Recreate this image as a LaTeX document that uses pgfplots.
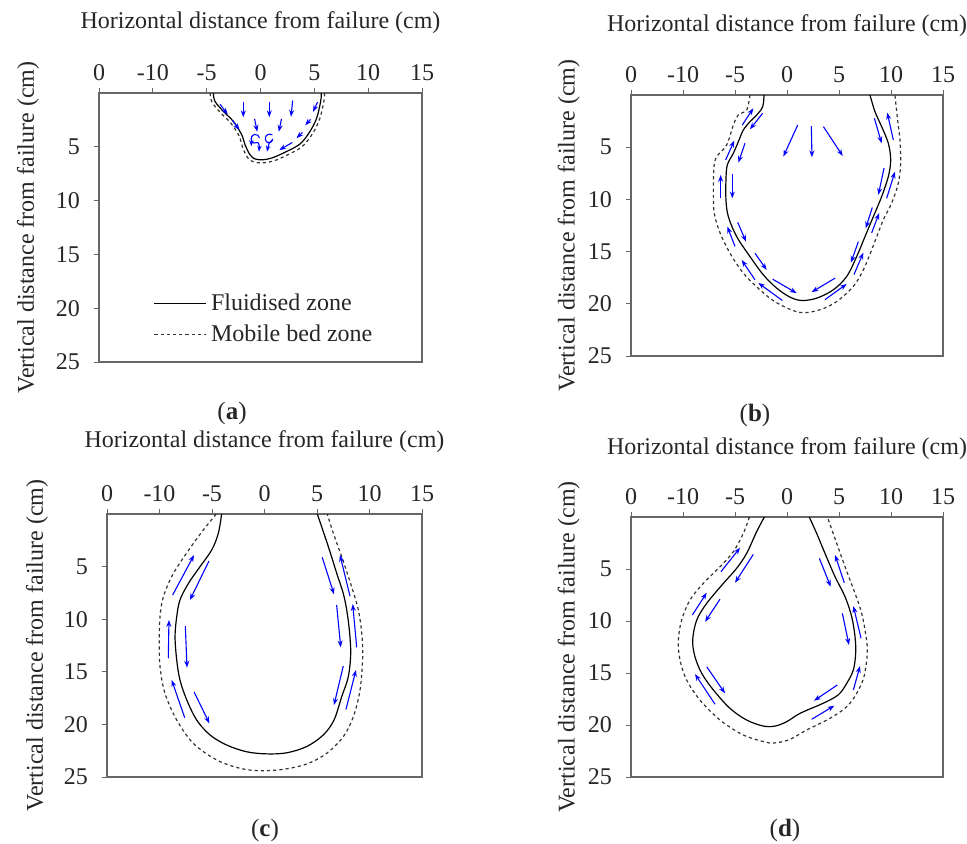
\documentclass[border=0pt]{standalone}
\usepackage{fontspec}
\setmainfont{Liberation Serif}
\usepackage{pgfplots}
\pgfplotsset{compat=1.18}
\usetikzlibrary{arrows.meta}

\pgfplotsset{
  panel/.style={
    scale only axis,
    xmin=-15, xmax=15, ymin=0, ymax=25,
    y dir=reverse,
    xtick={-15,-10,-5,0,5,10,15},
    xticklabels={0,-10,-5,0,5,10,15},
    ytick={5,10,15,20,25},
    yticklabels={5,10,15,20,25},
    xtick pos=right, xticklabel pos=right,
    ytick pos=left,
    tick align=outside,
    major tick length=2.5pt,
    axis line style={draw=black!60, line width=0.6pt},
    tick style={draw=black!60, line width=0.5pt},
    ticklabel style={font=\fontsize{12}{14}\selectfont, text=black!85},
    yticklabel style={xshift=-3.5pt},
    label style={font=\fontsize{12}{14}\selectfont, text=black!85},
    xlabel={Horizontal distance from failure (cm)},
    ylabel={Vertical distance from failure (cm)},
    anchor=north west,
  },
  fz/.style={black, line width=0.6pt, smooth, tension=0.55},
  mb/.style={black!80, line width=0.6pt, dash pattern=on 1.6pt off 1.5pt, smooth, tension=0.55},
  arr/.style={blue, line width=0.55pt, -{Stealth[length=3.4pt,width=2.5pt]}, quiver={u=\thisrow{u}, v=\thisrow{v}}, forget plot},
}

\begin{document}
\begin{tikzpicture}
\path[use as bounding box] (0pt,0pt) rectangle (483.5pt,-421.5pt);

% ---------------- (a)
\begin{axis}[panel, at={(49.5pt,-46.5pt)}, width=161.5pt, height=134.5pt,
  xlabel style={at={(axis description cs:0.5,1.26)}, anchor=center},
  ylabel style={at={(axis description cs:-0.22,0.5)}, anchor=center},
  legend style={draw=none, fill=none, at={(axis description cs:0.15,0.285)}, anchor=north west,
    font=\fontsize{12}{14}\selectfont, text=black!85, row sep=1.5pt,
    /tikz/every even column/.append style={column sep=3.5pt}},
  legend cell align=left,
  legend image code/.code={\draw[#1] (0pt,0pt) -- (26pt,0pt);},
]
\addplot[fz] coordinates {(-4.38,0) (-4.23,0.77) (-3.46,1.7) (-2.53,2.63) (-1.75,3.87) (-1.44,4.8) (-0.98,5.73) (-0.51,6.13) (0.26,6.2) (1.04,6.04) (2.12,5.58) (3.67,4.74) (4.6,3.56) (5.22,2.32) (5.59,0.77) (5.65,0)};
\addlegendentry{Fluidised zone}
\addplot[mb] coordinates {(-4.68,0) (-4.5,0.85) (-3.7,1.85) (-2.75,2.8) (-1.98,4.0) (-1.68,5.0) (-1.2,6.0) (-0.6,6.42) (0.3,6.48) (1.2,6.32) (2.3,5.85) (3.85,5.0) (4.85,3.75) (5.5,2.4) (5.88,0.8) (5.95,0)};
\addlegendentry{Mobile bed zone}
\addplot[arr] table {
x y u v
-1.6 0.8 0 1.45
0.82 0.8 0 1.45
2.99 0.7 -0.16 1.5
-3.75 1.05 0.7 0.95
-2.6 2.55 0.65 0.9
-0.55 2.4 0.25 1.2
1.95 2.4 -0.25 1.2
5.3 0.85 -0.42 0.9
4.65 2.45 -0.5 0.55
3.9 3.65 -0.55 0.55
2.95 4.6 -1.2 0.7
};
\addplot[blue, line width=0.55pt, smooth, -{Stealth[length=3pt,width=2.2pt]}, forget plot] coordinates {(-0.1,4.2) (-0.25,3.92) (-0.55,3.85) (-0.82,4.05) (-0.85,4.4) (-0.6,4.65) (-0.25,4.6) (-0.12,4.9) (-0.14,5.45)};
\addplot[blue, line width=0.55pt, smooth, -{Stealth[length=3pt,width=2.2pt]}, forget plot] coordinates {(1.1,3.9) (0.85,3.82) (0.55,3.95) (0.45,4.3) (0.65,4.6) (1.0,4.55) (1.1,4.35) (0.8,4.7) (0.6,5.45)};
\addplot[blue, line width=0.55pt, -{Stealth[length=3pt,width=2.2pt]}, forget plot] coordinates {(-0.85,4.35) (-0.85,4.95)};
\end{axis}

% ---------------- (b)
\begin{axis}[panel, at={(315.5pt,-47.5pt)}, width=156pt, height=130.5pt,
  xlabel style={at={(axis description cs:0.5,1.265)}, anchor=center},
  ylabel style={at={(axis description cs:-0.2,0.5)}, anchor=center},
]
\addplot[fz] coordinates {(-2.21,0) (-2.34,1.12) (-2.91,1.91) (-3.56,2.55) (-4.2,3.35) (-4.68,4.47) (-5.16,5.58) (-5.74,6.7) (-5.87,8.13) (-5.87,10.05) (-5.64,11.65) (-4.84,13.56) (-3.56,15.47) (-2.28,17.22) (-0.99,18.5) (0.29,19.36) (1.41,19.68) (2.85,19.46) (4.45,18.66) (5.74,17.38) (6.7,15.47) (7.5,13.56) (8.3,11.65) (9.1,9.73) (9.74,7.82) (9.97,6.22) (9.74,4.62) (9.1,3.03) (8.46,1.6) (7.98,0)};
\addplot[mb] coordinates {(-3.56,0) (-3.88,1.44) (-4.68,1.9) (-5.16,2.87) (-5.8,4.78) (-6.76,5.9) (-7.02,6.86) (-7.08,9.1) (-7.0,11.3) (-6.44,13.2) (-5.48,15.15) (-4.2,17.06) (-2.6,18.66) (-0.99,19.9) (1.25,20.83) (3.17,20.57) (4.78,19.78) (6.37,18.34) (7.34,16.75) (8.14,14.83) (9.26,11.96) (10.06,10.36) (10.7,8.45) (10.93,6.54) (10.86,4.3) (10.6,2.08) (10.38,0)};
\addplot[arr] table {
x y u v
-4.3 2.87 1.06 -1.6
-2.34 1.75 -1.22 1.53
-5.9 6.22 0.83 -1.85
-4.04 4.62 -0.64 1.86
-6.38 9.9 0 -2.24
-5.26 7.6 0 2.3
-4.74 12.2 0.8 1.84
-5.0 14.5 -0.74 -1.9
-3.08 15.15 1.12 1.6
-3.08 17.7 -1.28 -1.9
-1.38 17.64 2.31 1.34
-0.45 19.68 -2.31 -1.68
4.62 17.54 -2.25 1.34
3.65 19.6 2.09 -1.5
6.86 14.04 -0.71 2.01
6.44 17.2 0.9 -2.1
8.2 10.78 -0.63 1.98
8.14 13.2 0.73 -1.9
9.33 7.0 -0.55 2.57
9.58 9.9 0.8 -2.56
8.4 2.23 0.7 2.39
10.22 4.3 -0.58 -2.61
1.03 2.87 -1.38 3.03
2.34 2.97 0.06 2.99
3.5 3.03 1.86 2.81
};
\end{axis}

% ---------------- (c)
\begin{axis}[panel, at={(53.5pt,-257pt)}, width=157.5pt, height=131.5pt,
  xlabel style={at={(axis description cs:0.5,1.275)}, anchor=center},
  ylabel style={at={(axis description cs:-0.222,0.5)}, anchor=center},
]
\addplot[fz] coordinates {(-4.08,0) (-4.4,1.84) (-5.03,3.42) (-6.14,5.0) (-7.25,6.6) (-8.05,8.17) (-8.36,9.76) (-8.52,11.66) (-8.36,13.88) (-8.05,15.78) (-7.4,17.68) (-6.46,19.58) (-5.19,21.0) (-3.6,21.96) (-1.7,22.6) (0.21,22.8) (2.11,22.7) (4.02,22.1) (5.6,21.0) (6.62,19.58) (7.35,17.37) (7.98,15.47) (8.21,13.24) (8.08,11.03) (7.83,9.13) (7.5,7.54) (6.88,5.64) (6.08,3.1) (5.03,0)};
\addplot[mb] coordinates {(-4.6,0) (-5.83,1.52) (-7.1,3.26) (-8.68,5.64) (-9.63,7.86) (-9.95,9.76) (-10.02,11.98) (-9.95,14.5) (-9.48,17.04) (-8.36,19.58) (-6.78,21.8) (-4.55,23.38) (-2.33,24.17) (-0.43,24.4) (1.79,24.27) (4.02,23.76) (5.92,22.75) (7.5,21.17) (8.46,19.27) (9.1,16.73) (9.35,13.56) (9.26,11.34) (8.94,9.13) (8.3,6.91) (7.35,4.06) (6.56,1.84) (5.98,0)};
\addplot[arr] table {
x y u v
-8.75 7.7 2.04 -3.8
-5.29 4.47 -1.81 3.7
-9.16 13.72 0.06 -3.64
-7.54 10.65 0.16 3.95
-7.6 19.36 -1.24 -3.58
-6.71 16.9 1.46 3.0
5.5 4.12 1.12 3.51
8.14 7.8 -0.95 -3.9
6.87 8.65 0.39 4.02
8.78 12.67 -0.38 -4.11
7.5 14.45 -0.88 3.71
7.76 18.57 0.95 -3.74
};
\end{axis}

% ---------------- (d)
\begin{axis}[panel, at={(315.5pt,-258.5pt)}, width=156pt, height=130pt,
  xlabel style={at={(axis description cs:0.5,1.265)}, anchor=center},
  ylabel style={at={(axis description cs:-0.2,0.5)}, anchor=center},
]
\addplot[fz] coordinates {(-2.18,0) (-2.92,1.41) (-3.88,3.49) (-4.84,4.93) (-6.12,6.38) (-7.72,8.3) (-8.68,9.9) (-9.07,11.83) (-8.85,13.43) (-8.2,15.03) (-7.08,16.63) (-5.48,18.4) (-3.88,19.52) (-2.28,20.1) (-1.15,20.1) (-0.03,19.68) (1.25,18.88) (3.49,17.9) (4.93,17.1) (5.74,16.0) (6.38,14.7) (6.6,13.1) (6.54,11.5) (6.22,9.59) (5.58,7.66) (4.62,5.74) (3.65,3.49) (2.85,1.57) (2.14,0)};
\addplot[mb] coordinates {(-3.62,0) (-4.2,1.57) (-5.16,3.33) (-6.44,4.78) (-8.05,6.38) (-9.33,7.98) (-10.13,9.9) (-10.45,11.83) (-10.29,13.75) (-9.65,15.67) (-8.37,17.6) (-6.44,19.52) (-4.2,20.96) (-1.95,21.67) (-0.99,21.7) (0.29,21.38) (1.89,20.48) (4.13,19.36) (5.74,18.24) (6.7,16.95) (7.4,15.35) (7.72,13.1) (7.6,11.5) (7.18,9.26) (6.54,7.34) (5.58,4.78) (4.78,2.53) (3.88,0)};
\addplot[arr] table {
x y u v
-6.35 5.26 1.83 -2.31
-3.24 3.59 -1.76 2.73
-9.1 9.42 1.38 -2.14
-6.44 7.9 -1.44 2.17
-7.72 14.4 1.76 2.55
-6.92 18.0 -1.93 -2.9
3.11 3.97 1.09 2.73
5.51 6.32 -0.89 -2.67
5.32 9.26 0.64 3.04
7.12 11.66 -0.74 -3.1
6.38 16.63 0.64 -2.3
4.84 16.15 -2.24 1.51
2.37 19.45 2.18 -1.31
};
\end{axis}

\begin{scope}[font=\fontsize{12.5}{14}\selectfont, text=black!85]
\node at (116pt,-206.5pt) {(\textbf{a})};
\node at (377.5pt,-207.5pt) {(\textbf{b})};
\node at (132.5pt,-415pt) {(\textbf{c})};
\node at (392.5pt,-415pt) {(\textbf{d})};
\end{scope}
\end{tikzpicture}
\end{document}
